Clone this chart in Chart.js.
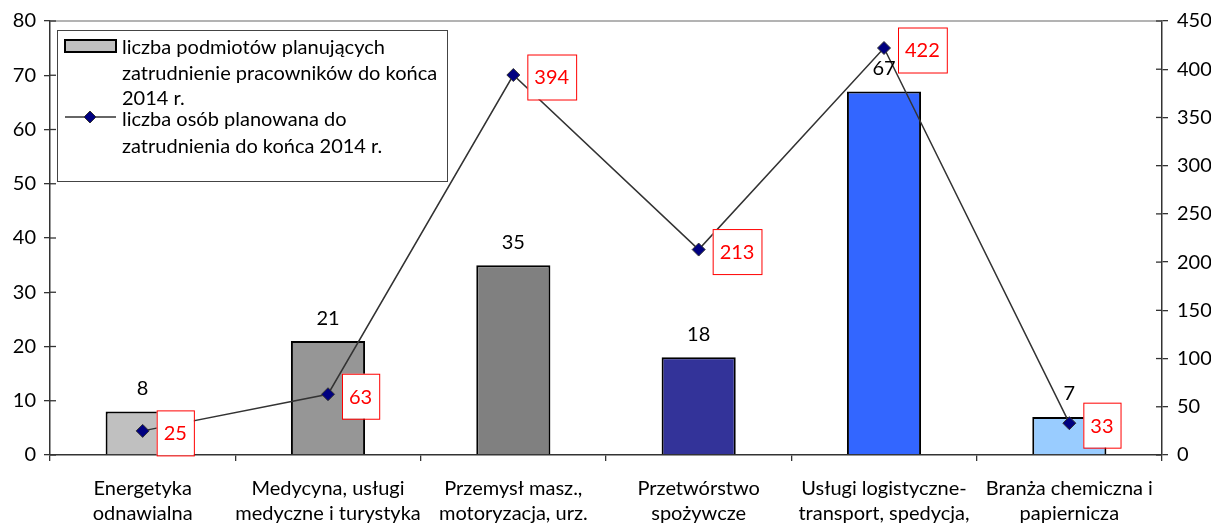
<!DOCTYPE html>
<html>
<head>
<meta charset="utf-8">
<script src="https://cdn.jsdelivr.net/npm/chart.js@4.4.1/dist/chart.umd.min.js"></script>
<style>
  html, body { margin: 0; padding: 0; background: #fff; }
  #wrap { width: 1211px; height: 525px; }
</style>
</head>
<body>
<div id="wrap"><canvas id="c" width="1211" height="525"></canvas></div>
<script>
// dane wykresu
const categories = [
  ['Energetyka', 'odnawialna'],
  ['Medycyna, usługi', 'medyczne i turystyka'],
  ['Przemysł masz.,', 'motoryzacja, urz.'],
  ['Przetwórstwo', 'spożywcze'],
  ['Usługi logistyczne-', 'transport, spedycja,'],
  ['Branża chemiczna i', 'papiernicza']
];
const podmioty = [8, 21, 35, 18, 67, 7];
const osoby = [25, 63, 394, 213, 422, 33];
const barColors = ['#c0c0c0', '#969696', '#808080', '#333399', '#3366ff', '#99ccff'];
const leftTicks = [0, 10, 20, 30, 40, 50, 60, 70, 80];
const rightTicks = [0, 50, 100, 150, 200, 250, 300, 350, 400, 450];
const labelBar = 'liczba podmiotów planujących zatrudnienie pracowników do końca 2014 r.';
const labelLine = 'liczba osób planowana do zatrudnienia do końca 2014 r.';

const FONT = 'Lato, "Open Sans", sans-serif';
const FS = 20;

// etykiety wartości, legenda i dodatkowe kreski osi
const extras = {
  id: 'extras',
  afterDatasetsDraw(chart) {
    const ctx = chart.ctx;
    const area = chart.chartArea;
    const y = chart.scales.y, y1 = chart.scales.y1;

    // górna krawędź obszaru wykresu
    ctx.save();
    ctx.strokeStyle = '#9a9a9a';
    ctx.lineWidth = 1.5;
    ctx.beginPath();
    ctx.moveTo(area.left, area.top);
    ctx.lineTo(area.right, area.top);
    ctx.stroke();

    // kreski do wewnątrz na osiach Y
    ctx.strokeStyle = '#333';
    ctx.lineWidth = 1.3;
    leftTicks.forEach(v => {
      const py = y.getPixelForValue(v);
      ctx.beginPath(); ctx.moveTo(area.left, py); ctx.lineTo(area.left + 6, py); ctx.stroke();
    });
    rightTicks.forEach(v => {
      const py = y1.getPixelForValue(v);
      ctx.beginPath(); ctx.moveTo(area.right - 6, py); ctx.lineTo(area.right, py); ctx.stroke();
    });

    // wartości nad słupkami
    ctx.font = FS + 'px ' + FONT;
    ctx.fillStyle = '#000';
    ctx.textAlign = 'center';
    ctx.textBaseline = 'middle';
    chart.getDatasetMeta(0).data.forEach((bar, i) => {
      ctx.fillText(String(podmioty[i]), bar.x, bar.y - 23);
    });

    // wartości linii w czerwonych ramkach
    chart.getDatasetMeta(1).data.forEach((pt, i) => {
      const txt = String(osoby[i]);
      const w = ctx.measureText(txt).width + 14;
      const h = 45;
      const bx = pt.x + 14, by = pt.y - h / 2 + 2;
      ctx.fillStyle = '#fff';
      ctx.fillRect(bx, by, w, h);
      ctx.strokeStyle = '#ff0000';
      ctx.lineWidth = 1;
      ctx.strokeRect(bx + 0.5, by + 0.5, w, h);
      ctx.fillStyle = '#ff0000';
      ctx.textAlign = 'left';
      ctx.fillText(txt, bx + 7, by + h / 2 + 1);
    });

    // legenda
    const lx = 57, ly = 30, lw = 390, lh = 151;
    ctx.fillStyle = '#fff';
    ctx.fillRect(lx, ly, lw, lh);
    ctx.strokeStyle = '#444';
    ctx.lineWidth = 1;
    ctx.strokeRect(lx + 0.5, ly + 0.5, lw, lh);

    ctx.fillStyle = barColors[0];
    ctx.fillRect(65, 40, 51, 12);
    ctx.strokeStyle = '#000';
    ctx.lineWidth = 2;
    ctx.strokeRect(65, 40, 51, 12);

    ctx.strokeStyle = '#333';
    ctx.lineWidth = 1.5;
    ctx.beginPath(); ctx.moveTo(65, 117); ctx.lineTo(116, 117); ctx.stroke();
    ctx.beginPath();
    ctx.moveTo(90, 111); ctx.lineTo(96, 117); ctx.lineTo(90, 123); ctx.lineTo(84, 117); ctx.closePath();
    ctx.fillStyle = '#000080'; ctx.fill();
    ctx.lineWidth = 1; ctx.stroke();

    ctx.fillStyle = '#000';
    ctx.textAlign = 'left';
    ctx.font = FS + 'px ' + FONT;
    const lines = [
      ['liczba podmiotów planujących', 48],
      ['zatrudnienie pracowników do końca', 74],
      ['2014 r.', 99],
      ['liczba osób planowana do', 120],
      ['zatrudnienia do końca 2014 r.', 147]
    ];
    lines.forEach(([t, py]) => ctx.fillText(t, 122, py));
    ctx.restore();
  }
};

new Chart(document.getElementById('c'), {
  data: {
    labels: categories,
    datasets: [
      {
        type: 'bar',
        label: labelBar,
        data: podmioty,
        backgroundColor: barColors,
        borderColor: '#000',
        borderWidth: 2,
        barPercentage: 0.4,
        categoryPercentage: 1,
        yAxisID: 'y',
        order: 2
      },
      {
        type: 'line',
        label: labelLine,
        data: osoby,
        borderColor: '#333',
        borderWidth: 1.5,
        tension: 0,
        pointStyle: 'rectRot',
        pointRadius: 6.5,
        pointBackgroundColor: '#000080',
        pointBorderColor: '#333',
        pointBorderWidth: 1,
        yAxisID: 'y1',
        order: 1
      }
    ]
  },
  options: {
    responsive: false,
    animation: false,
    layout: { padding: { top: 21, left: 0, right: 0, bottom: 0 } },
    plugins: { legend: { display: false }, tooltip: { enabled: false } },
    scales: {
      x: {
        offset: true,
        grid: { offset: true, drawOnChartArea: false, tickLength: 6, color: '#333', lineWidth: 1.3 },
        border: { color: '#333', width: 1.5 },
        ticks: { font: { family: FONT, size: FS, lineHeight: 1.25 }, color: '#000', padding: 15, maxRotation: 0, autoSkip: false },
        afterFit(s) { s.height = 70; }
      },
      y: {
        position: 'left',
        min: 0, max: 80,
        afterBuildTicks(s) { s.ticks = leftTicks.map(v => ({ value: v })); },
        grid: { drawOnChartArea: false, tickLength: 6, color: '#333', lineWidth: 1.3 },
        border: { color: '#333', width: 1.5 },
        ticks: { font: { family: FONT, size: FS }, color: '#000', padding: 8 },
        afterFit(s) { s.width = 50; }
      },
      y1: {
        position: 'right',
        min: 0, max: 450,
        afterBuildTicks(s) { s.ticks = rightTicks.map(v => ({ value: v })); },
        grid: { drawOnChartArea: false, tickLength: 6, color: '#333', lineWidth: 1.3 },
        border: { color: '#333', width: 1.5 },
        ticks: { font: { family: FONT, size: FS }, color: '#000', padding: 9 },
        afterFit(s) { s.width = 49; }
      }
    }
  },
  plugins: [extras]
});
</script>
</body>
</html>
